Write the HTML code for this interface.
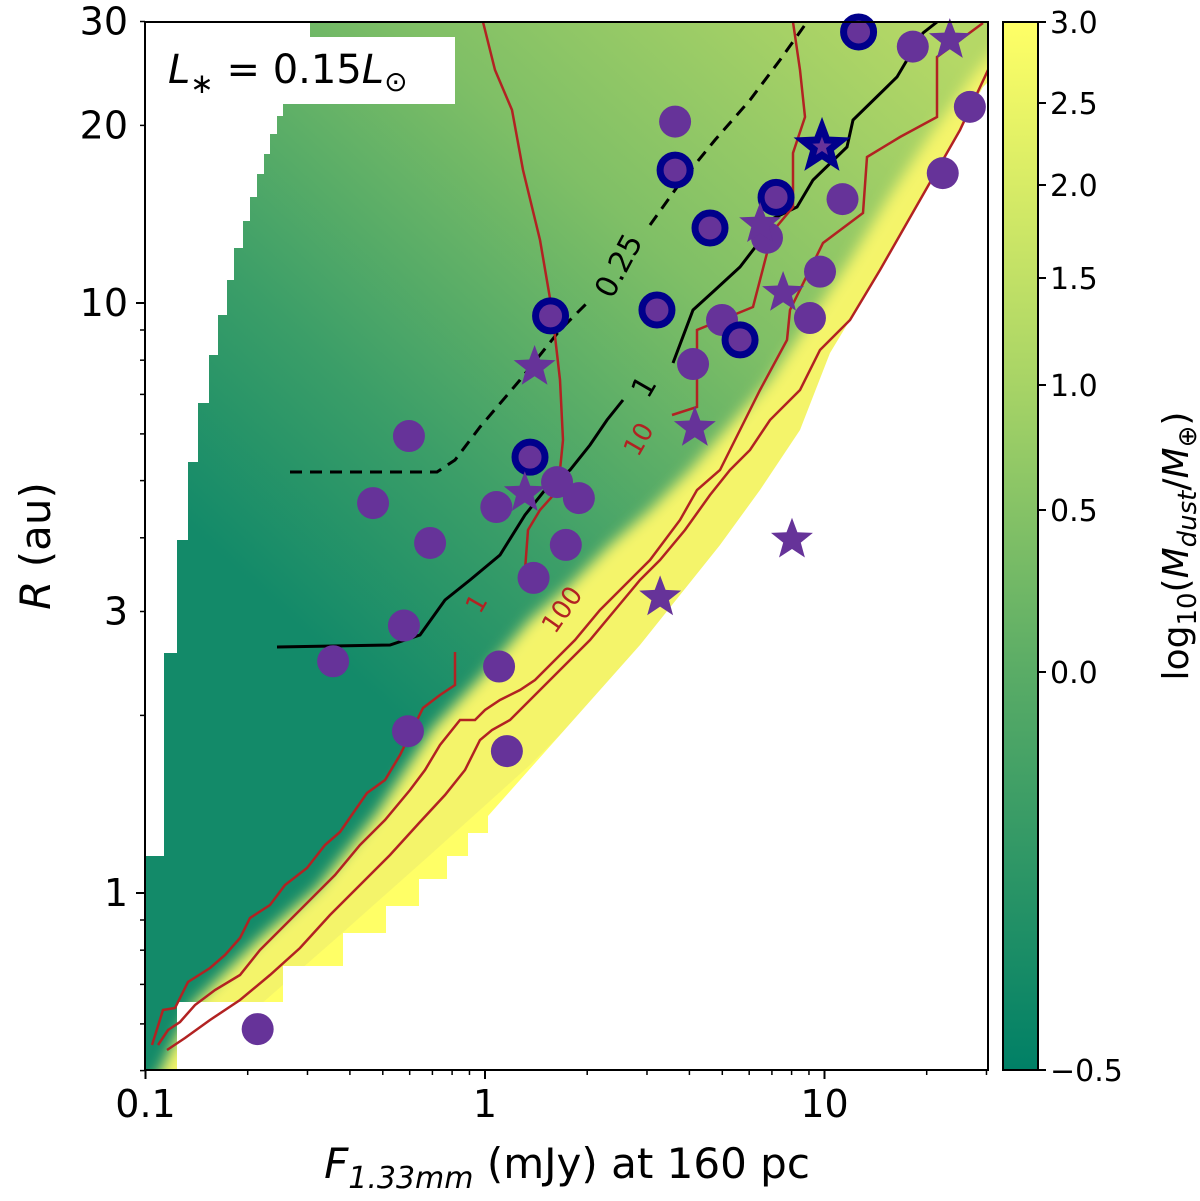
<!DOCTYPE html>
<html><head><meta charset="utf-8"><style>
html,body{margin:0;padding:0;background:#fff;}
svg{display:block;font-family:"DejaVu Sans","Liberation Sans",sans-serif;}
</style></head><body>
<svg id="chart" width="1200" height="1201" viewBox="0 0 1200 1201" xmlns="http://www.w3.org/2000/svg">
<defs>
  <clipPath id="plotclip"><rect x="145" y="22" width="843" height="1048"/></clipPath>
  <linearGradient id="greenGrad" gradientUnits="userSpaceOnUse" x1="380" y1="700" x2="960" y2="60">
    <stop offset="0" stop-color="#138a69"/>
    <stop offset="0.25" stop-color="#3b9e68"/>
    <stop offset="0.6" stop-color="#7fbf66"/>
    <stop offset="1" stop-color="#b5d866"/>
  </linearGradient>
  <linearGradient id="cbGrad" x1="0" y1="1" x2="0" y2="0">
    <stop offset="0" stop-color="#008066"/>
    <stop offset="0.38" stop-color="#5aac66"/>
    <stop offset="0.65" stop-color="#a6d366"/>
    <stop offset="1" stop-color="#ffff66"/>
  </linearGradient>
  <filter id="blur" x="-20%" y="-20%" width="140%" height="140%"><feGaussianBlur stdDeviation="7"/></filter>
</defs>

<g clip-path="url(#plotclip)">
  <rect x="145" y="22" width="843" height="1048" fill="url(#greenGrad)"/>
  <polygon filter="url(#blur)" fill="#f4f46a"
    points="158,1075 192,1005 260,938 317,888 377,813 433,728 483,675 530,620 570,585 610,545 650,510 690,470 730,425 770,380 810,320 850,260 890,195 930,135 970,80 1010,30 1050,30 1050,1100 140,1100"/>
  <polygon fill="#ffff66" points="190,1070 260,1005 340,935 430,855 530,765 630,665 730,555 830,420 910,280 970,170 1000,110 1000,1070"/>
  <polygon fill="#fff"
    points="145,22 310,22 310,60 295,60 295,90 283,90 283,116 277,116 277,134 270,134 270,154 264,154 264,174 257,174 257,197 250,197 250,221 243,221 243,248 234,248 234,280 227,280 227,315 218,315 218,355 209,355 209,403 198,403 198,462 188,462 188,540 177,540 177,653 164,653 164,856 145,856"/>
  <polygon fill="#fff"
    points="177,1070 177,1002 283,1002 283,966 343,966 343,933 386,933 386,906 419,906 419,879 447,879 447,856 468,856 468,833 488,833 488,816 520,780 560,735 600,690 640,645 680,595 720,545 760,490 800,430 830,353 880,270 930,180 983,87 990,80 990,1070"/>
</g>

<g id="contours" clip-path="url(#plotclip)" fill="none">
  <polyline stroke="#000" stroke-width="3" stroke-dasharray="12,8"
    points="290,472 437,472 455,460 480,427 520,380 560,330 590,300"/>
  <polyline stroke="#000" stroke-width="3" stroke-dasharray="12,8"
    points="650,225 680,183 715,140 750,100 780,60 807,22"/>
  <polyline stroke="#000" stroke-width="3"
    points="277,647 390,645 420,635 445,600 470,580 500,555 525,515 545,490 570,470 590,445 607,420 623,400"/>
  <polyline stroke="#000" stroke-width="3"
    points="673,363 693,310 715,290 740,267 763,237 770,220 797,207 813,180 847,147 853,120 897,77 923,33 937,22"/>
  <polyline stroke="#b22222" stroke-width="2.5"
    points="483,22 495,70 512,110 523,170 540,240 552,310 560,380 563,440 558,490 540,510 528,530 525,570"/>
  <polyline stroke="#b22222" stroke-width="2.5"
    points="793,22 800,70 805,117 793,153 793,207 768,237 767,253 753,307 697,330 697,407 672,415"/>
  <polyline stroke="#b22222" stroke-width="2.5"
    points="152,1045 163,1010 175,1008 188,982 210,968 225,955 240,938 250,918 270,905 285,885 307,868 325,845 340,832 367,793 385,780 400,755 423,708 440,695 455,685 455,652"/>
  <polyline stroke="#b22222" stroke-width="2.5"
    points="158,1045 168,1030 180,1022 195,1005 215,990 240,975 260,950 285,925 310,900 335,875 360,845 385,820 410,790 425,770 440,745 460,720 475,720 485,710 500,700 520,690 535,680 555,660 575,640 600,610 620,590 650,560 680,520 697,490 720,470 740,430 760,390 787,340 790,310 823,243 863,213 867,157 900,137 937,117 937,57 983,23"/>
  <polyline stroke="#b22222" stroke-width="2.5"
    points="167,1050 185,1038 210,1020 240,1000 270,975 300,948 330,915 360,885 390,855 420,822 445,795 465,770 480,740 492,730 510,720 530,700 550,680 570,660 590,640 615,610 640,580 660,560 685,530 710,495 730,470 750,450 770,420 800,390 820,350 850,320 880,270 920,200 960,130 988,70"/>
</g>
<g fill="#b22222" font-size="26">
  <text transform="translate(480,615) rotate(-60)">1</text>
  <text transform="translate(638,458) rotate(-60)">10</text>
  <text transform="translate(555,635) rotate(-55)">100</text>
</g>
<g fill="#000" font-size="30">
  <text transform="translate(612,300) rotate(-62)">0.25</text>
  <text transform="translate(648,400) rotate(-60)">1</text>
</g>

<g id="points"></g>

<rect x="145" y="22" width="843" height="1048" fill="none" stroke="#000" stroke-width="2"/>
<g id="axes"></g>

<g>
  <rect x="158" y="37" width="297" height="67" fill="#fff"/>
  <text x="168" y="83" font-size="40"><tspan font-style="italic">L</tspan><tspan font-size="28" dy="10">∗</tspan><tspan dy="-10"> = 0.15</tspan><tspan font-style="italic">L</tspan><tspan font-size="28" dy="8">⊙</tspan></text>
</g>

<g>
  <rect x="1003" y="22" width="35" height="1048" fill="url(#cbGrad)" stroke="#000" stroke-width="2"/>
  <g id="cbticks"></g>
  <text transform="translate(1188,546) rotate(-90)" text-anchor="middle" font-size="36">log<tspan font-size="26" dy="8">10</tspan><tspan dy="-8">(</tspan><tspan font-style="italic">M</tspan><tspan font-size="26" dy="8" font-style="italic">dust</tspan><tspan dy="-8">/</tspan><tspan font-style="italic">M</tspan><tspan font-size="26" dy="8">⊕</tspan><tspan dy="-8">)</tspan></text>
</g>

<text x="567" y="1178" text-anchor="middle" font-size="42"><tspan font-style="italic">F</tspan><tspan font-size="30" dy="10" font-style="italic">1.33mm</tspan><tspan dy="-10"> (mJy) at 160 pc</tspan></text>
<text transform="translate(50,546) rotate(-90)" text-anchor="middle" font-size="42"><tspan font-style="italic">R</tspan> (au)</text>
</svg>

<script>
const circleF = [12.6,18.2,3.63,3.63,26.8,22.3,4.6,7.2,11.3,6.77,3.21,1.56,9.7,9.06,4.99,5.64,4.1,0.597,1.357,1.63,1.89,0.468,1.08,0.689,1.73,1.39,0.577,0.357,1.10,0.593,1.16,0.214];
const circleR = [28.8,27.2,20.3,16.8,21.5,16.6,13.4,15.1,15.0,12.9,9.73,9.51,11.3,9.43,9.36,8.66,7.88,5.95,5.48,4.97,4.67,4.58,4.51,3.92,3.89,3.42,2.84,2.47,2.42,1.88,1.74,0.588];
const circleRing = [1,0,0,1,0,0,1,1,0,0,1,1,0,0,0,1,0,0,1,0,0,0,0,0,0,0,0,0,0,0,0,0];
const starF = [23.4,9.83,6.46,1.40,4.15,1.31,7.55,8.02,3.28];
const starR = [27.9,18.4,13.6,7.79,6.14,4.76,10.4,3.97,3.17];
const starRing = [0,1,0,0,0,0,0,0,0];
const xTicks = [0.1,1,10];
const xTickLabels = ["0.1","1","10"];
const yTicks = [1,3,10,20,30];
const yTickLabels = ["1","3","10","20","30"];
const cbTicks = [3.0,2.5,2.0,1.5,1.0,0.5,0.0,-0.5];
const cbTickLabels = ["3.0","2.5","2.0","1.5","1.0","0.5","0.0","\u22120.5"];

const NS="http://www.w3.org/2000/svg";
const X0=145,X1=988,Y0=22,Y1=1070;
function xs(f){return 485+339.5*Math.log10(f);}
function ys(r){return 893-590*Math.log10(r);}
function cbY(v){
  const ts=[3.0,2.5,2.0,1.5,1.0,0.5,0.0,-0.5], ps=[22,103,185,278,385,510,672,1070];
  for(let i=0;i<ts.length-1;i++){ if(v<=ts[i]&&v>=ts[i+1]){const t=(ts[i]-v)/(ts[i]-ts[i+1]);return ps[i]+t*(ps[i+1]-ps[i]);} }
  return 1070;
}
function mk(tag,attrs,parent){const e=document.createElementNS(NS,tag);for(const k in attrs)e.setAttribute(k,attrs[k]);parent.appendChild(e);return e;}
const pts=document.getElementById('points');
for(let i=0;i<circleF.length;i++){
  const ring=circleRing[i];
  const c=mk('circle',{cx:xs(circleF[i]),cy:ys(circleR[i]),r:ring?15:16,fill:'#663399',stroke:ring?'#00008b':'none','stroke-width':ring?7:0},pts);
  
  
}
function starPath(cx,cy,R){let d='';for(let k=0;k<10;k++){const a=-Math.PI/2+k*Math.PI/5;const r=k%2?R*0.42:R;d+=(k?'L':'M')+(cx+r*Math.cos(a)).toFixed(1)+','+(cy+r*Math.sin(a)).toFixed(1);}return d+'Z';}
for(let i=0;i<starF.length;i++){
  const ring=starRing[i];
  const s=mk('path',{d:starPath(xs(starF[i]),ys(starR[i]),ring?20:22),fill:'#663399',stroke:ring?'#00008b':'none','stroke-width':ring?7:0},pts);
  
  
}
const ax=document.getElementById('axes');
for(let d=-1;d<=1;d++){for(let m=1;m<=9;m++){const v=m*Math.pow(10,d);const x=xs(v);if(x<X0-1||x>X1+1)continue;
  const t=mk('line',{x1:x,x2:x,y1:Y1,y2:Y1+(m===1?9:5),stroke:'#000','stroke-width':m===1?2:1.5},ax);
  
  }}
xTicks.forEach((v,i)=>{const t=mk('text',{x:xs(v),y:1117,'text-anchor':'middle','font-size':38},ax);t.textContent=xTickLabels[i];
  
  });
for(let d=-1;d<=1;d++){for(let m=1;m<=9;m++){const v=m*Math.pow(10,d);const y=ys(v);if(y<Y0-1||y>Y1+1)continue;
  const t=mk('line',{x1:X0,x2:X0-(m===1?9:5),y1:y,y2:y,stroke:'#000','stroke-width':m===1?2:1.5},ax);
  
  }}
yTicks.forEach((v,i)=>{const t=mk('text',{x:128,y:ys(v)+13,'text-anchor':'end','font-size':38},ax);t.textContent=yTickLabels[i];
  
  });
const cb=document.getElementById('cbticks');
cbTicks.forEach((v,i)=>{const y=cbY(v);
  const l=mk('line',{x1:1038,x2:1046,y1:y,y2:y,stroke:'#000','stroke-width':2},cb);
  
  
  const t=mk('text',{x:1050,y:y+11,'font-size':30},cb);t.textContent=cbTickLabels[i];
  
  });
</script>
</body></html>
